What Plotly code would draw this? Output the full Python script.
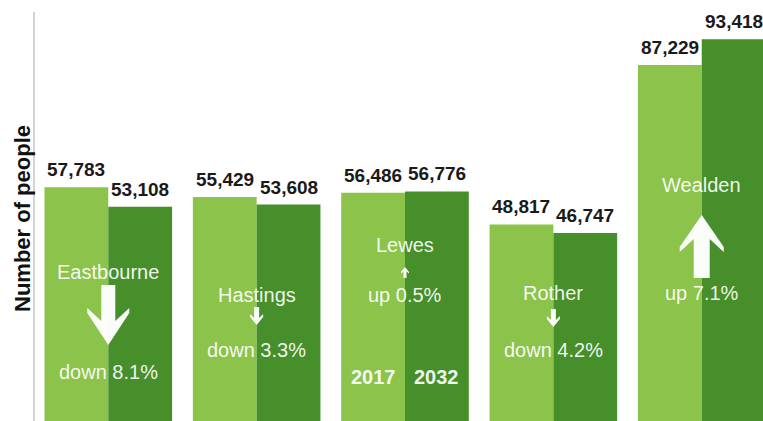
import plotly.graph_objects as go

# Population by district, 2017 and projected 2032
districts = ["Eastbourne", "Hastings", "Lewes", "Rother", "Wealden"]
pop_2017 = [57783, 55429, 56486, 48817, 87229]
pop_2032 = [53108, 53608, 56776, 46747, 93418]
change_labels = ["down 8.1%", "down 3.3%", "up 0.5%", "down 4.2%", "up 7.1%"]
year_labels = ["2017", "2032"]

# Figure geometry (pixels)
W, H = 763, 421
M_L, M_R, M_T, M_B = 35, 0, 12, 0
PLOT_H = H - M_T - M_B
BARGAP = 0.14
HALF = (1 - BARGAP) / 4  # offset of each bar centre from its category centre

LIGHT = "#8cc34b"
DARK = "#468f2a"
INNER_TEXT = "rgba(255,255,255,0.93)"


def row_to_paper(py):
    """Convert a pixel row of the page to a paper y coordinate."""
    return (H - M_B - py) / PLOT_H


fig = go.Figure()
for name, vals, col in (("2017", pop_2017, LIGHT), ("2032", pop_2032, DARK)):
    fig.add_trace(go.Bar(
        x=list(range(len(districts))), y=vals, name=name,
        marker=dict(color=col, line=dict(width=0)),
        hovertext=districts, hoverinfo="text+y",
    ))

annotations = []

# Value labels above each bar
value_font = dict(family="Liberation Sans, Arial", size=19, color="#1a1a1a")
for vals, off in ((pop_2017, -HALF), (pop_2032, HALF)):
    for i, v in enumerate(vals):
        annotations.append(dict(x=i + off, y=v, xref="x", yref="y",
                                text="<b>{:,}</b>".format(v), showarrow=False,
                                font=value_font, xanchor="center", yanchor="bottom",
                                yshift=5))

inner_font = dict(family="Liberation Sans, Arial", size=20, color=INNER_TEXT)

# Text rows inside the bars: district name and change label
name_rows = [272, 295, 245, 293, 185]
change_rows = [372, 350, 295, 350, 293]

for i, d in enumerate(districts):
    annotations.append(dict(x=i, y=row_to_paper(name_rows[i]), xref="x", yref="paper",
                            text=d, showarrow=False, font=inner_font,
                            xanchor="center", yanchor="middle"))
    annotations.append(dict(x=i, y=row_to_paper(change_rows[i]), xref="x", yref="paper",
                            text=change_labels[i], showarrow=False, font=inner_font,
                            xanchor="center", yanchor="middle"))

# Year labels at the foot of the Lewes bars
for lbl, off in zip(year_labels, (-HALF, HALF)):
    annotations.append(dict(x=2 + off, y=row_to_paper(377), xref="x", yref="paper",
                            text="<b>%s</b>" % lbl, showarrow=False, font=inner_font,
                            xanchor="center", yanchor="middle"))

# Axis title
annotations.append(dict(x=(22 - M_L) / (W - M_L - M_R), y=row_to_paper(219),
                        xref="paper", yref="paper", text="<b>Number of people</b>",
                        textangle=-90, showarrow=False,
                        font=dict(family="Liberation Sans, Arial", size=22, color="#111111"),
                        xanchor="center", yanchor="middle"))

# Arrow outlines in pixels, tip at the origin, y pointing up
ARROWS = {
    "big_up": "M0,0 L22,-32 L22,-37 L8,-24 L8,-63 L-8,-63 L-8,-24 L-22,-37 L-22,-32 Z",
    "big_down": "M0,0 L21,32 L21,37 L7,24 L7,60 L-7,60 L-7,24 L-21,37 L-21,32 Z",
    "small_down": "M0,0 L6.5,8 L6.5,11 L2.5,7 L2.5,18 L-2.5,18 L-2.5,7 L-6.5,11 L-6.5,8 Z",
    "small_up": "M0,0 L4,-5 L4,-6.5 L1.5,-4.5 L1.5,-11 L-1.5,-11 L-1.5,-4.5 L-4,-6.5 L-4,-5 Z",
}
arrow_size = ["big", "small", "small", "small", "big"]
arrow_tip_rows = [345, 325, 267, 327, 215]

shapes = []
for i in range(len(districts)):
    direction = "up" if pop_2032[i] >= pop_2017[i] else "down"
    shapes.append(dict(
        type="path", xref="x", yref="paper",
        xsizemode="pixel", ysizemode="pixel",
        xanchor=i, yanchor=row_to_paper(arrow_tip_rows[i]),
        path=ARROWS["%s_%s" % (arrow_size[i], direction)],
        fillcolor="rgba(255,255,255,0.97)", line=dict(width=0), layer="above",
    ))

fig.update_layout(
    width=W, height=H,
    margin=dict(l=M_L, r=M_R, t=M_T, b=M_B, pad=0),
    paper_bgcolor="white", plot_bgcolor="white",
    barmode="group", bargap=BARGAP, bargroupgap=0,
    showlegend=False,
    xaxis=dict(range=[-0.494, 4.413], showticklabels=False,
               showgrid=False, zeroline=False, showline=False, ticks=""),
    yaxis=dict(range=[1470, 100000], showticklabels=False, showgrid=False,
               zeroline=False, showline=True, linecolor="#d4d4d4", linewidth=1.5,
               ticks=""),
    annotations=annotations,
    shapes=shapes,
)

fig.write_html("out.html")
